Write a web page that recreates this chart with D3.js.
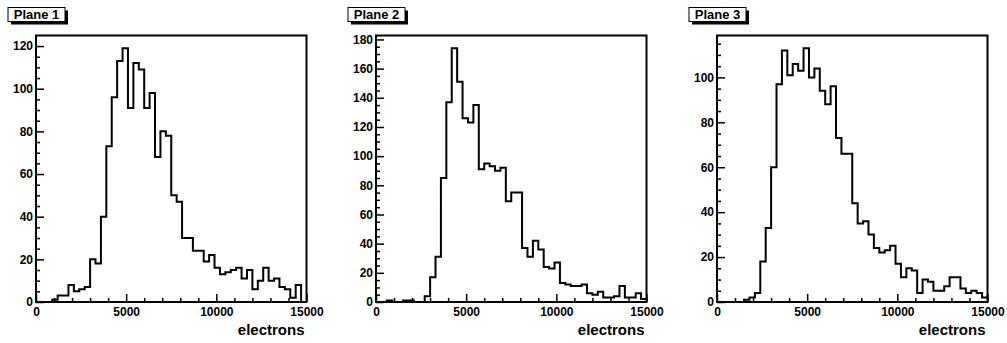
<!DOCTYPE html>
<html>
<head>
<meta charset="utf-8">
<script src="https://cdn.jsdelivr.net/npm/d3@7"></script>
<style>
body{margin:0;background:#fff;}
svg{display:block;}
svg text{font-family:"Liberation Sans",Arial,sans-serif;font-weight:bold;}
</style>
</head>
<body>
<svg id="chart" width="1007" height="343"></svg>
<script>
// bin contents, 50 bins of 300 electrons each from 0 to 15000
var counts1=[0,0,0,1,3,3,8,5,6,7,20,18,40,73,96,113,119,91,112,109,91,98,68,80,78,50,47,30,30,24,24,19,22,16,13,14,15,16,11,15,6,10,16,10,11,7,6,2,8,0];
var counts2=[0,0,1,0,0,1,1,0,0,4,17,31,85,137,174,151,126,123,135,91,95,93,90,92,69,75,75,37,31,42,36,24,23,27,13,12,11,11,12,6,5,7,3,3,4,11,3,3,6,2];
var counts3=[0,0,0,0,0,1,2,4,18,33,60,97,112,101,106,103,113,100,104,94,88,96,73,66,66,44,35,36,30,24,22,23,25,17,11,15,14,4,10,9,5,5,7,11,11,6,4,5,4,2];
var titles=["Plane 1","Plane 2","Plane 3"];
var xTicks=[0,5000,10000,15000];
var yTicks1=[0,20,40,60,80,100,120];
var yTicks2=[0,20,40,60,80,100,120,140,160,180];
var yTicks3=[0,20,40,60,80,100];
var xTitle="electrons";

var xMin=0,xMax=15000,binW=300;
var edges=d3.range(xMin,xMax+1,binW);

var svg=d3.select("#chart");
var lefts=[36,376,717],fw=270.5,frameTop=35.5,frameBottom=302;
var data=[counts1,counts2,counts3],yt=[yTicks1,yTicks2,yTicks3];

function styleAxis(a,withText){
	a.attr("font-family",null).attr("font-size",null);
	a.select(".domain").remove();
	a.selectAll("line").attr("stroke-width",1.5);
	if(withText) a.selectAll("text").attr("font-size",12).attr("fill","#000");
}

function panel(k){
	var counts=data[k];
	var g=svg.append("g");
	var x=d3.scaleLinear().domain([xMin,xMax]).range([lefts[k],lefts[k]+fw]);
	var y=d3.scaleLinear().domain([0,d3.max(counts)*1.05]).range([frameBottom,frameTop]);

	// title box with shadow
	var bx=lefts[k]-28,by=7.5,bw=57,bh=14;
	g.append("rect").attr("x",bx+3).attr("y",by+3).attr("width",bw).attr("height",bh).attr("fill","#000");
	g.append("rect").attr("x",bx).attr("y",by).attr("width",bw).attr("height",bh).attr("fill","#fff").attr("stroke","#000").attr("stroke-width",1);
	g.append("text").attr("x",bx+bw/2).attr("y",by+11.5).attr("text-anchor","middle").attr("font-size",13).text(titles[k]);

	// histogram outline
	var pts=counts.map(function(c,i){return [edges[i],c];});
	pts.push([xMax,counts[counts.length-1]]);
	var line=d3.line().x(function(d){return x(d[0]);}).y(function(d){return y(d[1]);}).curve(d3.curveStepAfter);
	g.append("path").attr("d",line(pts)).attr("fill","none").attr("stroke","#000").attr("stroke-width",2);

	// minor ticks
	var yMinor=d3.range(0,y.domain()[1],5).filter(function(v){return v%20!=0;});
	g.append("g").attr("transform","translate("+lefts[k]+",0)")
		.call(d3.axisLeft(y).tickValues(yMinor).tickFormat("").tickSizeInner(-4).tickSizeOuter(0))
		.call(styleAxis,false);
	var xMinor=d3.range(1000,xMax,1000).filter(function(v){return v%5000!=0;});
	g.append("g").attr("transform","translate(0,"+frameBottom+")")
		.call(d3.axisBottom(x).tickValues(xMinor).tickFormat("").tickSizeInner(-4).tickSizeOuter(0))
		.call(styleAxis,false);

	// major ticks and labels
	g.append("g").attr("transform","translate("+lefts[k]+",0)")
		.call(d3.axisLeft(y).tickValues(yt[k]).tickFormat(d3.format("d")).tickSizeInner(-8).tickSizeOuter(0).tickPadding(3))
		.call(styleAxis,true);
	g.append("g").attr("transform","translate(0,"+frameBottom+")")
		.call(d3.axisBottom(x).tickValues(xTicks).tickFormat(d3.format("d")).tickSizeInner(-8).tickSizeOuter(0).tickPadding(5))
		.call(styleAxis,true);

	// frame
	g.append("rect").attr("x",lefts[k]).attr("y",frameTop).attr("width",fw).attr("height",frameBottom-frameTop)
		.attr("fill","none").attr("stroke","#000").attr("stroke-width",2);

	g.append("text").attr("x",lefts[k]+fw-2).attr("y",335).attr("text-anchor","end").attr("font-size",15).text(xTitle);
}

for(var k=0;k<3;k++) panel(k);
</script>
</body>
</html>
